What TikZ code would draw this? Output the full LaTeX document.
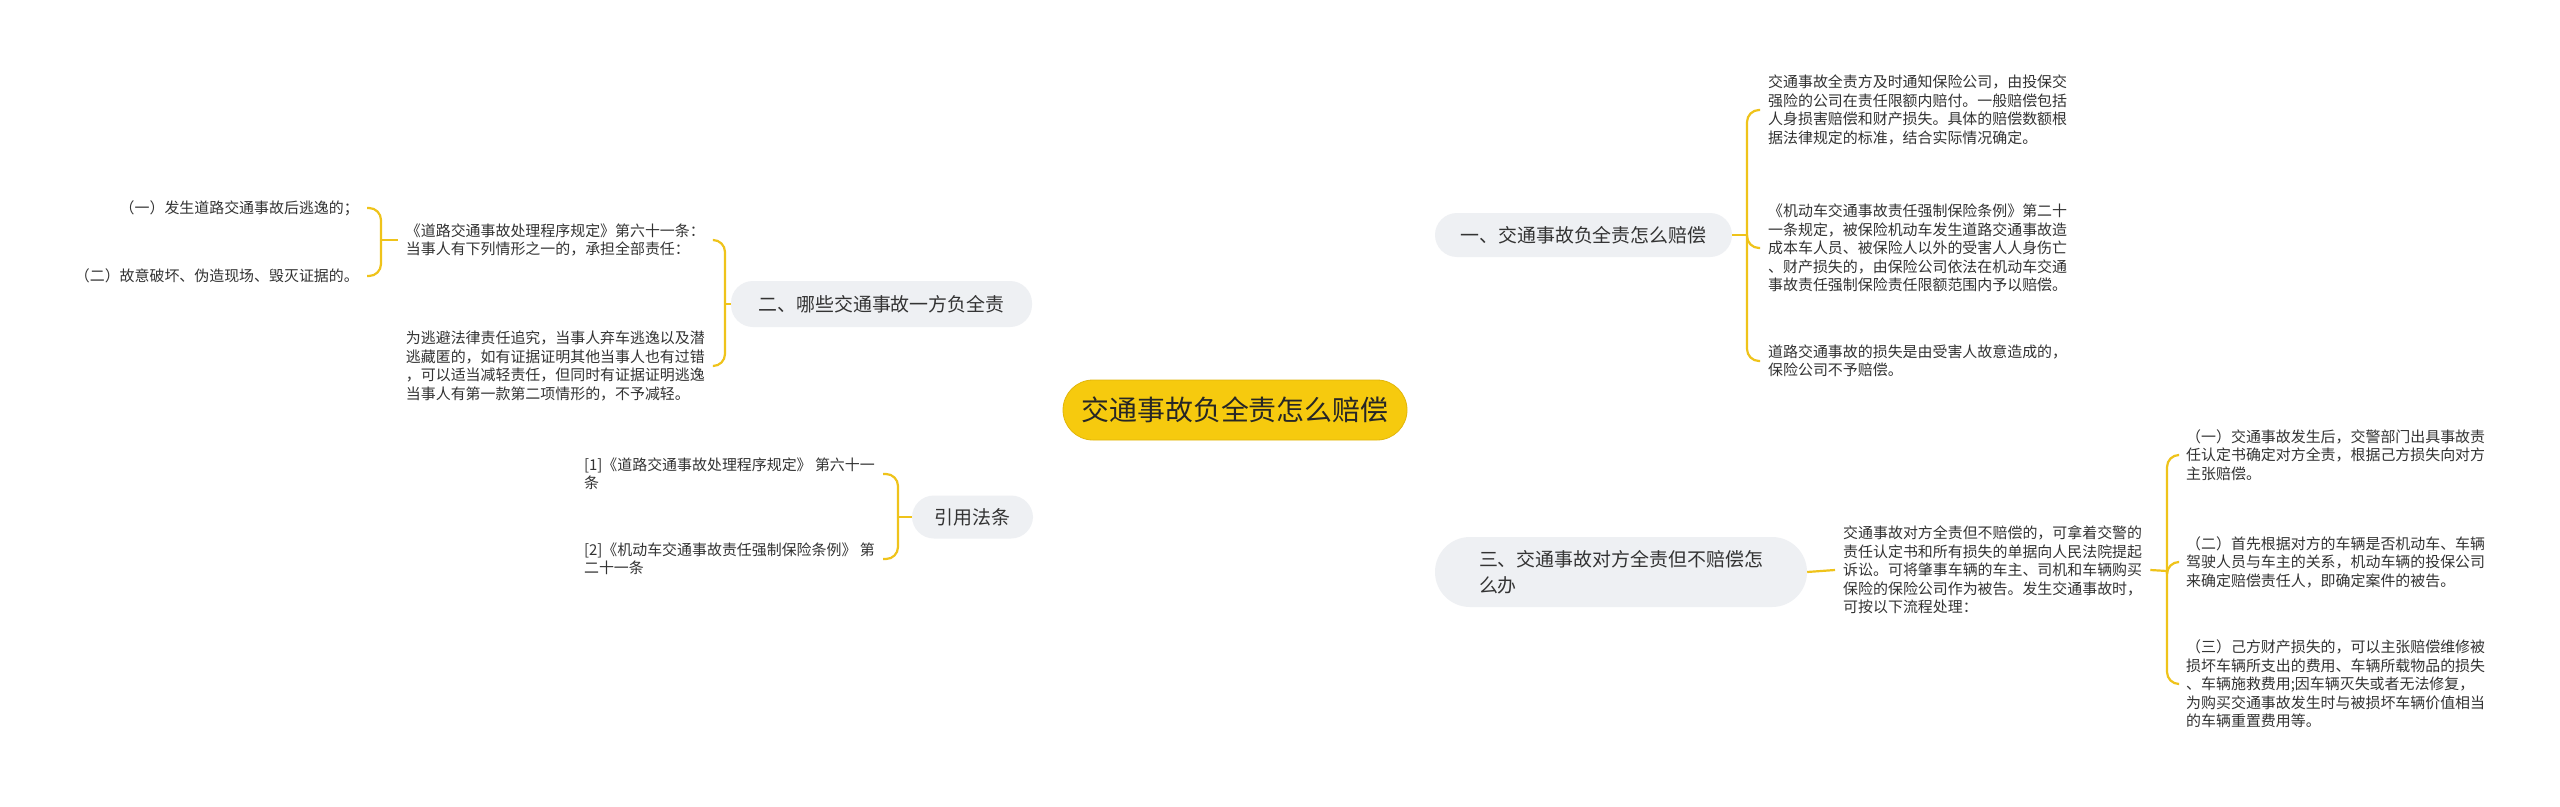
\documentclass[tikz,border=0pt]{standalone}
\usepackage{fontspec}
\setmainfont{Noto Sans CJK SC}
\usetikzlibrary{backgrounds}
\definecolor{lineY}{HTML}{EFC31A}
\definecolor{rootY}{HTML}{F6CA0E}
\definecolor{rootB}{HTML}{E2B60A}
\definecolor{pillG}{HTML}{EEF0F3}
\definecolor{txt}{HTML}{333333}
\tikzset{
  mainline/.style={draw=lineY, line width=3bp},
  conn/.style={draw=lineY, line width=2.2bp, rounded corners=12bp},
  pill/.style={fill=pillG, rounded corners=22bp, inner sep=0pt, text=txt, font=\fontsize{19}{26}\selectfont},
  rootnode/.style={fill=rootY, draw=rootB, line width=0.8bp, rounded corners=30bp, inner sep=0pt, text=black!85, font=\fontsize{28}{34}\selectfont},
  leaf/.style={align=left, inner xsep=8bp, inner ysep=2bp, text=txt, font=\fontsize{15}{18.5}\selectfont},
  leafr/.style={align=right, inner xsep=8bp, inner ysep=2bp, text=txt, font=\fontsize{15}{18.5}\selectfont}
}
\begin{document}
\begin{tikzpicture}[x=1bp,y=-1bp]
\useasboundingbox (0,0) rectangle (2560,807);
\fill[white] (0,0) rectangle (2560,807);

% root and main branches
\node[rootnode, minimum width=344bp, minimum height=60bp] (root) at (1235,410) {交通事故负全责怎么赔偿};
\node[pill, minimum width=297bp, minimum height=44bp] (b1) at (1583.5,235) {一、交通事故负全责怎么赔偿};
\node[pill, minimum width=301bp, minimum height=46bp] (b2) at (881.5,304) {二、哪些交通事故一方负全责};
\node[pill, rounded corners=35bp, minimum width=372bp, minimum height=70bp, align=left] (b3) at (1621,572) {三、交通事故对方全责但不赔偿怎\\么办};
\node[pill, minimum width=121bp, minimum height=43bp] (b4) at (972.5,517) {引用法条};

% branch 1 leaves
\node[leaf, anchor=west] (c11) at (1760,110) {交通事故全责方及时通知保险公司，由投保交\\强险的公司在责任限额内赔付。一般赔偿包括\\人身损害赔偿和财产损失。具体的赔偿数额根\\据法律规定的标准，结合实际情况确定。};
\node[leaf, anchor=west] (c12) at (1760,248) {《机动车交通事故责任强制保险条例》第二十\\一条规定，被保险机动车发生道路交通事故造\\成本车人员、被保险人以外的受害人人身伤亡\\、财产损失的，由保险公司依法在机动车交通\\事故责任强制保险责任限额范围内予以赔偿。};
\node[leaf, anchor=west] (c13) at (1760,361) {道路交通事故的损失是由受害人故意造成的，\\保险公司不予赔偿。};

% branch 2 leaves
\node[leaf, anchor=east] (c21) at (713,240) {《道路交通事故处理程序规定》第六十一条：\\当事人有下列情形之一的，承担全部责任：};
\node[leaf, anchor=east] (c22) at (713,366) {为逃避法律责任追究，当事人弃车逃逸以及潜\\逃藏匿的，如有证据证明其他当事人也有过错\\，可以适当减轻责任，但同时有证据证明逃逸\\当事人有第一款第二项情形的，不予减轻。};
\node[leafr, anchor=east] (e1) at (367,208) {（一）发生道路交通事故后逃逸的；};
\node[leafr, anchor=east] (e2) at (367,276) {（二）故意破坏、伪造现场、毁灭证据的。};

% branch 4 leaves
\node[leaf, anchor=east] (c41) at (883,474) {[1]《道路交通事故处理程序规定》 第六十一\\条};
\node[leaf, anchor=east] (c42) at (883,559) {[2]《机动车交通事故责任强制保险条例》 第\\二十一条};

% branch 3 leaves
\node[leaf, anchor=west] (c31) at (1835,570) {交通事故对方全责但不赔偿的，可拿着交警的\\责任认定书和所有损失的单据向人民法院提起\\诉讼。可将肇事车辆的车主、司机和车辆购买\\保险的保险公司作为被告。发生交通事故时，\\可按以下流程处理：};
\node[leaf, anchor=west] (d1) at (2178,455) {（一）交通事故发生后，交警部门出具事故责\\任认定书确定对方全责，根据己方损失向对方\\主张赔偿。};
\node[leaf, anchor=west] (d2) at (2178,562) {（二）首先根据对方的车辆是否机动车、车辆\\驾驶人员与车主的关系，机动车辆的投保公司\\来确定赔偿责任人，即确定案件的被告。};
\node[leaf, anchor=west] (d3) at (2178,684) {（三）己方财产损失的，可以主张赔偿维修被\\损坏车辆所支出的费用、车辆所载物品的损失\\、车辆施救费用;因车辆灭失或者无法修复，\\为购买交通事故发生时与被损坏车辆价值相当\\的车辆重置费用等。};

% junctions
\coordinate (j1) at (1747,235);
\coordinate (j2) at (725,304);
\coordinate (j21) at (381,240);
\coordinate (j3) at (2167,571);
\coordinate (j4) at (898,517);

\begin{pgfonlayer}{background}
\draw[mainline] (root.center) .. controls (1235,240) and (1300,235) .. (b1.west);
\draw[mainline] (root.center) .. controls (1235,304) and (1110,304) .. (b2.east);
\draw[mainline] (root.center) .. controls (1235,567) and (1300,572) .. (b3.west);
\draw[mainline] (root.center) .. controls (1235,517) and (1100,517) .. (b4.east);
\end{pgfonlayer}

\draw[conn] (b1.east) -- (j1);
\draw[conn] (j1) |- (c11.west);
\draw[conn] (j1) |- (c12.west);
\draw[conn] (j1) |- (c13.west);

\draw[conn] (b2.west) -- (j2);
\draw[conn] (j2) |- (c21.east);
\draw[conn] (j2) |- (c22.east);
\draw[conn] (c21.west) -- (j21);
\draw[conn] (j21) |- (e1.east);
\draw[conn] (j21) |- (e2.east);

\draw[conn] (b4.west) -- (j4);
\draw[conn] (j4) |- (c41.east);
\draw[conn] (j4) |- (c42.east);

\draw[conn] (b3.east) -- (c31.west);
\draw[conn] (c31.east) -- (j3);
\draw[conn] (j3) |- (d1.west);
\draw[conn] (j3) |- (d2.west);
\draw[conn] (j3) |- (d3.west);
\end{tikzpicture}
\end{document}
